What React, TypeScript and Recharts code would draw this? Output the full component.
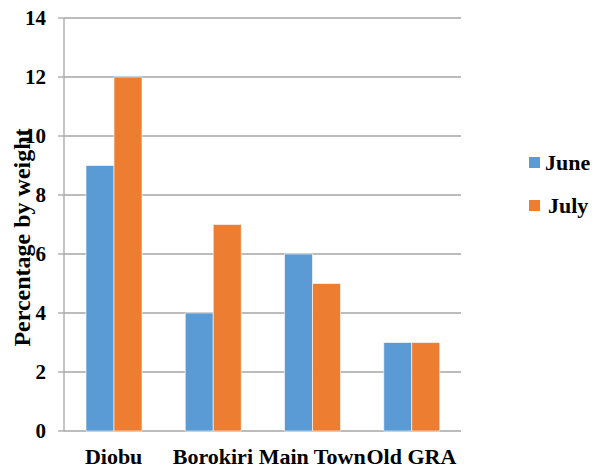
import { Bar, BarChart, CartesianGrid, XAxis, YAxis } from "recharts";

const locations = ["Diobu", "Borokiri", "Main Town", "Old GRA"];
const juneValues = [9, 4, 6, 3];
const julyValues = [12, 7, 5, 3];
const yTicks = [0, 2, 4, 6, 8, 10, 12, 14];
const boundaryTicks = [0, 1, 2, 3, 4];

const BLUE = "#5b9bd5";
const ORANGE = "#ed7d31";
const GRID = "#a6a6a6";
const FONT = "Liberation Serif";

const series = [
  { key: "june", name: "June", color: BLUE },
  { key: "july", name: "July", color: ORANGE },
];

// legend sits outside the svg so it doesn't eat into the plot area
function LegendBox() {
  return (
    <div
      style={{
        position: "absolute",
        left: 529,
        top: 141,
        fontFamily: FONT,
        fontWeight: "bold",
        fontSize: 22,
        color: "#000",
      }}
    >
      {series.map((s, i) => (
        <div key={s.key} style={{ display: "flex", alignItems: "center", height: 43 }}>
          <span style={{ width: 11, height: 11, background: s.color, display: "inline-block" }} />
          <span style={{ marginLeft: i === 0 ? 5 : 8 }}>{s.name}</span>
        </div>
      ))}
    </div>
  );
}

function YTitle({ viewBox }: any) {
  const cy = viewBox.y + viewBox.height / 2 + 13;
  return (
    <text
      x={22}
      y={cy}
      transform={`rotate(-90 22 ${cy})`}
      textAnchor="middle"
      dominantBaseline="central"
      style={{ fontFamily: FONT, fontWeight: "bold", fontSize: 24 }}
      fill="#000"
    >
      Percentage by weight
    </text>
  );
}

const yTickStyle = { fontFamily: FONT, fontWeight: "bold", fontSize: 21, fill: "#000" };
const xTickStyle = { fontFamily: FONT, fontWeight: "bold", fontSize: 22, fill: "#000" };

export default function App() {
  const data = locations.map((name, i) => ({
    name,
    june: juneValues[i],
    july: julyValues[i],
  }));

  return (
    <div style={{ position: "absolute", left: 0, top: 0, width: 596, height: 470, background: "#fff", fontFamily: FONT }}>
      <BarChart
        width={596}
        height={470}
        data={data}
        margin={{ top: 18, right: 135, bottom: 0, left: 0 }}
        barGap={0}
        barSize={28}
        style={{ fontFamily: FONT }}
      >
        <CartesianGrid vertical={false} stroke={GRID} strokeWidth={1.3} yAxisId="v" xAxisId="frame" />
        <XAxis
          xAxisId="frame"
          type="number"
          domain={[0, 4]}
          ticks={boundaryTicks}
          height={0}
          axisLine={{ stroke: GRID, strokeWidth: 1.3 }}
          tickLine={{ stroke: GRID, strokeWidth: 1.3 }}
          tickSize={6}
          tick={() => <g />}
        />
        <XAxis
          xAxisId="cat"
          dataKey="name"
          height={39}
          axisLine={false}
          tickLine={false}
          tickSize={0}
          tickMargin={17}
          interval={0}
          tick={xTickStyle}
        />
        <YAxis
          yAxisId="v"
          width={64}
          domain={[0, 14]}
          ticks={yTicks}
          interval={0}
          axisLine={{ stroke: GRID, strokeWidth: 1.3 }}
          tickLine={{ stroke: GRID, strokeWidth: 1.3 }}
          tickSize={6}
          tickMargin={12}
          tick={yTickStyle}
          label={<YTitle />}
        />
        {series.map((s) => (
          <Bar
            key={s.key}
            dataKey={s.key}
            name={s.name}
            xAxisId="cat"
            yAxisId="v"
            fill={s.color}
            stroke="#fff"
            strokeWidth={0.6}
            isAnimationActive={false}
          />
        ))}
      </BarChart>
      <LegendBox />
    </div>
  );
}
